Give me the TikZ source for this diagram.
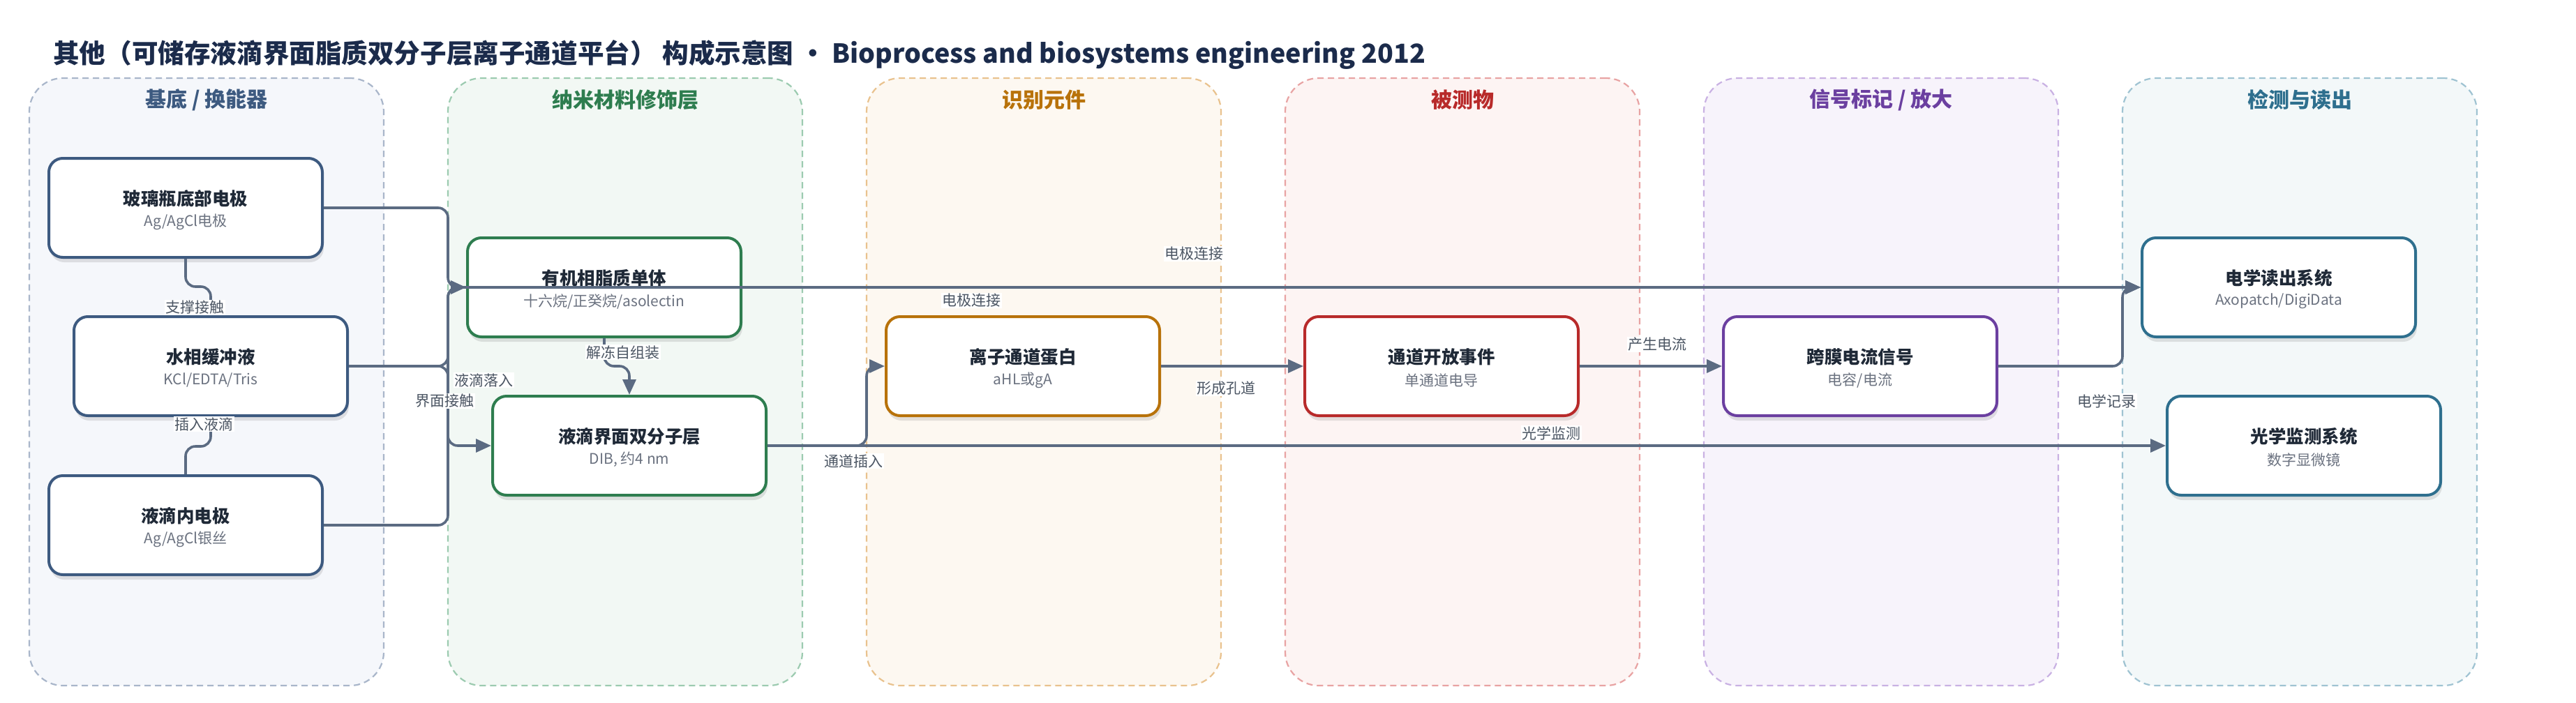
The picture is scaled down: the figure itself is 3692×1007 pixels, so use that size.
\documentclass[tikz,border=0pt]{standalone}
\usepackage{fontspec}
\setmainfont{Noto Sans CJK SC}
\usetikzlibrary{arrows.meta,shadows,calc}

\definecolor{edgec}{HTML}{5B6B82}
\definecolor{titlec}{HTML}{1B2B4B}
\definecolor{ttlc}{HTML}{1F2937}
\definecolor{subc}{HTML}{6B7280}
\definecolor{lblc}{HTML}{4B5563}
\definecolor{gAd}{HTML}{3D5A80}\definecolor{gAf}{HTML}{F5F7FB}\definecolor{gAl}{HTML}{A9B6CA}
\definecolor{gBd}{HTML}{2E7D4F}\definecolor{gBf}{HTML}{F2F8F4}\definecolor{gBl}{HTML}{9CCBB0}
\definecolor{gCd}{HTML}{B8720A}\definecolor{gCf}{HTML}{FDF8F1}\definecolor{gCl}{HTML}{E9C28E}
\definecolor{gDd}{HTML}{B82A2A}\definecolor{gDf}{HTML}{FDF4F3}\definecolor{gDl}{HTML}{E8A3A3}
\definecolor{gEd}{HTML}{6B3FA0}\definecolor{gEf}{HTML}{F7F3FB}\definecolor{gEl}{HTML}{C9B1E3}
\definecolor{gFd}{HTML}{2E6F8E}\definecolor{gFf}{HTML}{F3F8F9}\definecolor{gFl}{HTML}{9FC3D2}

\newcommand\mkbox[6]{%
  \node[nbox, draw=#4] (#1) at (#2,#3) {};
  \node[ttl] (#1t) at ($(#1.center)+(0,-13)$) {#5};
  \node[subt] (#1s) at ($(#1.center)+(0,20)$) {#6};
}

\begin{document}
\begin{tikzpicture}[x=1pt,y=-1pt,
  grp/.style={rectangle, rounded corners=48pt, minimum width=508pt, minimum height=871pt,
    line width=2.2pt, dash pattern=on 9pt off 6pt, inner sep=0pt},
  gttl/.style={font=\fontsize{30}{34}\selectfont\bfseries, inner sep=0pt},
  nbox/.style={rectangle, rounded corners=20pt, minimum width=392pt, minimum height=142pt,
    line width=4pt, fill=white, inner sep=0pt,
    drop shadow={shadow xshift=2pt, shadow yshift=-7pt, opacity=0.10, fill=black}},
  ttl/.style={font=\fontsize{25.5}{30}\selectfont\bfseries, text=ttlc, inner sep=0pt},
  subt/.style={font=\fontsize{21}{25}\selectfont, text=subc, inner sep=0pt},
  lbl/.style={font=\fontsize{21}{24}\selectfont, text=lblc, fill=white, inner sep=1.5pt},
  conn/.style={draw=edgec, line width=3.6pt, rounded corners=14pt},
  arr/.style={conn, -{Triangle[length=22pt,width=19pt]}},
]
\useasboundingbox (0,0) rectangle (3692,1007);
\fill[white] (0,0) rectangle (3692,1007);

\node[anchor=west, font=\fontsize{37.6}{45}\selectfont\bfseries, text=titlec, inner sep=0pt] (title) at (76,78)
  {其他（可储存液滴界面脂质双分子层离子通道平台） 构成示意图 · Bioprocess and biosystems engineering 2012};

% groups
\node[grp, draw=gAl, fill=gAf] (G1) at (296,547.5) {};
\node[grp, draw=gBl, fill=gBf] (G2) at (896,547.5) {};
\node[grp, draw=gCl, fill=gCf] (G3) at (1496,547.5) {};
\node[grp, draw=gDl, fill=gDf] (G4) at (2096,547.5) {};
\node[grp, draw=gEl, fill=gEf] (G5) at (2696,547.5) {};
\node[grp, draw=gFl, fill=gFf] (G6) at (3296,547.5) {};
\node[gttl, text=gAd] (G1t) at ($(G1.north)+(0,32)$) {基底 / 换能器};
\node[gttl, text=gBd] (G2t) at ($(G2.north)+(0,32)$) {纳米材料修饰层};
\node[gttl, text=gCd] (G3t) at ($(G3.north)+(0,32)$) {识别元件};
\node[gttl, text=gDd] (G4t) at ($(G4.north)+(0,32)$) {被测物};
\node[gttl, text=gEd] (G5t) at ($(G5.north)+(0,32)$) {信号标记 / 放大};
\node[gttl, text=gFd] (G6t) at ($(G6.north)+(0,32)$) {检测与读出};

% boxes
\mkbox{N1}{266}{298}{gAd}{玻璃瓶底部电极}{Ag/AgCl电极}
\mkbox{N2}{302}{525}{gAd}{水相缓冲液}{KCl/EDTA/Tris}
\mkbox{N3}{266}{753}{gAd}{液滴内电极}{Ag/AgCl银丝}
\mkbox{N4}{866}{412}{gBd}{有机相脂质单体}{十六烷/正癸烷/asolectin}
\mkbox{N5}{902}{639}{gBd}{液滴界面双分子层}{DIB, 约4 nm}
\mkbox{N6}{1466}{525}{gCd}{离子通道蛋白}{aHL或gA}
\mkbox{N7}{2066}{525}{gDd}{通道开放事件}{单通道电导}
\mkbox{N8}{2666}{525}{gEd}{跨膜电流信号}{电容/电流}
\mkbox{N9}{3266}{412}{gFd}{电学读出系统}{Axopatch/DigiData}
\mkbox{N10}{3302}{639}{gFd}{光学监测系统}{数字显微镜}

% connectors
\draw[conn] (N1.south) -- (266,411) -- (302,411) -- (N2.north);
\draw[conn] (N3.north) -- (266,640) -- (302,640) -- (N2.south);
\draw[arr] (N1.east) -- (642,298) -- (642,412) -- (N9.west);
\draw[arr] (N3.east) -- (642,753) -- (642,412) -- (N9.west);
\draw[arr] (N2.east) -- (642,525) -- (642,412) -- (N4.west);
\draw[arr] (N2.east) -- (642,525) -- (642,639) -- (N5.west);
\draw[arr] (N4.south) -- (866,525) -- (902,525) -- (N5.north);
\draw[arr] (N5.east) -- (1242,639) -- (1242,525) -- (N6.west);
\draw[arr] (N6.east) -- (N7.west);
\draw[arr] (N7.east) -- (N8.west);
\draw[arr] (N8.east) -- (3042,525) -- (3042,412) -- (N9.west);
\draw[arr] (N5.east) -- (N10.west);

% labels
\node[lbl] (L1) at (279,441) {支撑接触};
\node[lbl] (L2) at (292,608) {插入液滴};
\node[lbl] (L3) at (693,545) {液滴落入};
\node[lbl] (L4) at (637,575) {界面接触};
\node[lbl] (L5) at (893,505) {解冻自组装};
\node[lbl] (L6) at (1711,364) {电极连接};
\node[lbl] (L7) at (1392,431) {电极连接};
\node[lbl] (L8) at (1223,661) {通道插入};
\node[lbl] (L9) at (1757,557) {形成孔道};
\node[lbl] (L10) at (2375,494) {产生电流};
\node[lbl] (L11) at (2223,621) {光学监测};
\node[lbl] (L12) at (3019,575) {电学记录};
\end{tikzpicture}
\end{document}
